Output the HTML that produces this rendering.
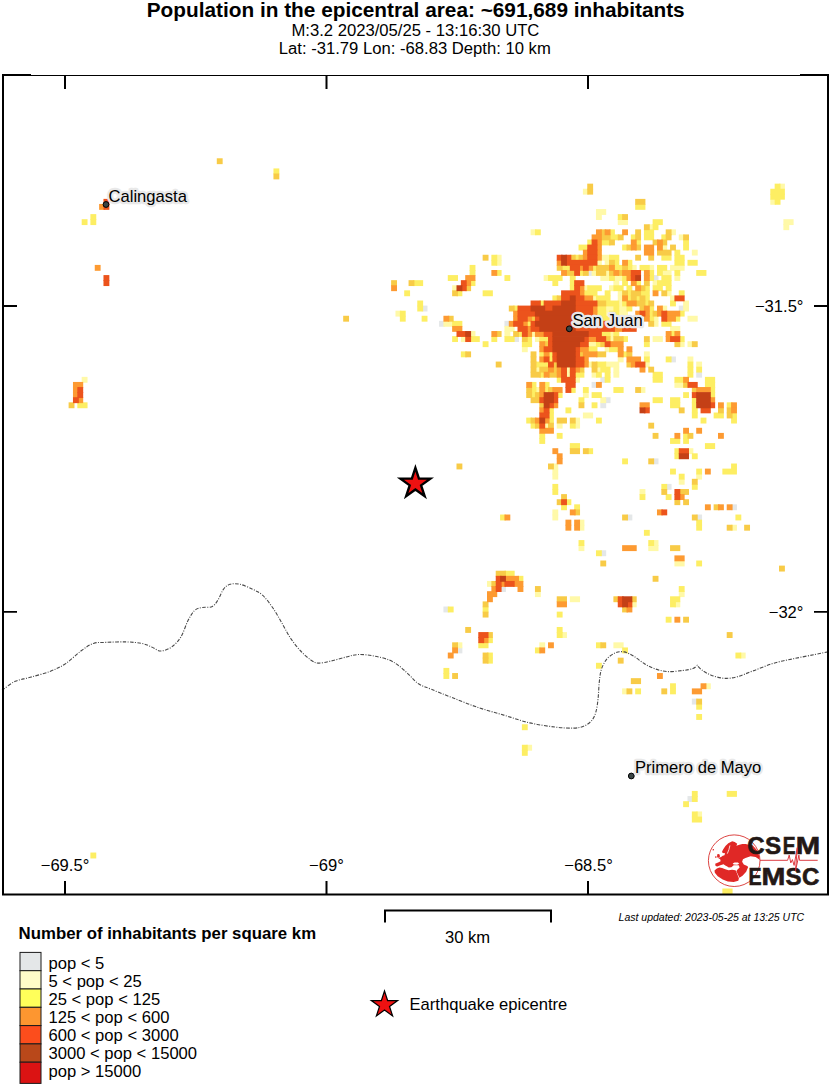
<!DOCTYPE html>
<html><head><meta charset="utf-8"><title>Population map</title>
<style>html,body{margin:0;padding:0;background:#fff;}body{width:831px;height:1086px;overflow:hidden;font-family:"Liberation Sans",sans-serif;}svg{display:block;}text{font-family:"Liberation Sans",sans-serif;}</style>
</head><body>
<svg width="831" height="1086" viewBox="0 0 831 1086">
<rect width="831" height="1086" fill="#fff"/>
<text x="415.7" y="16.8" text-anchor="middle" font-size="20.8" font-weight="bold" fill="#000">Population in the epicentral area: ~691,689 inhabitants</text>
<text x="415.4" y="35.6" text-anchor="middle" font-size="16.65" fill="#000">M:3.2 2023/05/25 - 13:16:30 UTC</text>
<text x="414.8" y="53.7" text-anchor="middle" font-size="16.65" fill="#000">Lat: -31.79 Lon: -68.83 Depth: 10 km</text>
<filter id="soft" x="-2%" y="-2%" width="104%" height="104%"><feGaussianBlur stdDeviation="0.75 0.5"/></filter><g id="cells" filter="url(#soft)">
<rect x="587.25" y="270.00" width="5.86" height="5.88" fill="#e4e7e8"/>
<rect x="652.62" y="275.09" width="5.86" height="5.88" fill="#e4e7e8"/>
<rect x="421.63" y="305.60" width="5.86" height="5.89" fill="#e4e7e8"/>
<rect x="678.77" y="305.60" width="5.86" height="5.89" fill="#e4e7e8"/>
<rect x="439.07" y="320.86" width="5.86" height="5.89" fill="#e4e7e8"/>
<rect x="504.44" y="320.86" width="5.86" height="5.89" fill="#e4e7e8"/>
<rect x="513.16" y="336.13" width="5.86" height="5.89" fill="#e4e7e8"/>
<rect x="670.06" y="356.49" width="5.86" height="5.89" fill="#e4e7e8"/>
<rect x="696.21" y="371.77" width="5.86" height="5.89" fill="#e4e7e8"/>
<rect x="600.33" y="376.86" width="5.86" height="5.89" fill="#e4e7e8"/>
<rect x="591.61" y="381.95" width="5.86" height="5.89" fill="#e4e7e8"/>
<rect x="604.68" y="397.23" width="5.86" height="5.90" fill="#e4e7e8"/>
<rect x="600.33" y="402.33" width="5.86" height="5.90" fill="#e4e7e8"/>
<rect x="652.62" y="458.41" width="5.86" height="5.90" fill="#e4e7e8"/>
<rect x="665.70" y="483.91" width="5.86" height="5.90" fill="#e4e7e8"/>
<rect x="731.08" y="504.33" width="5.86" height="5.90" fill="#e4e7e8"/>
<rect x="626.48" y="514.54" width="5.86" height="5.91" fill="#e4e7e8"/>
<rect x="696.21" y="514.54" width="5.86" height="5.91" fill="#e4e7e8"/>
<rect x="600.33" y="550.29" width="5.86" height="5.91" fill="#e4e7e8"/>
<rect x="500.08" y="586.06" width="5.86" height="5.91" fill="#e4e7e8"/>
<rect x="443.42" y="606.52" width="5.86" height="5.91" fill="#e4e7e8"/>
<rect x="456.50" y="647.44" width="5.86" height="5.92" fill="#e4e7e8"/>
<rect x="691.85" y="698.64" width="5.86" height="5.92" fill="#e4e7e8"/>
<rect x="687.49" y="796.06" width="5.86" height="5.93" fill="#e4e7e8"/>
<rect x="779.02" y="183.65" width="5.86" height="5.88" fill="#fff9a8"/>
<rect x="582.89" y="188.73" width="5.86" height="5.88" fill="#fff9a8"/>
<rect x="770.30" y="198.88" width="5.86" height="5.88" fill="#fff9a8"/>
<rect x="595.97" y="209.04" width="10.22" height="5.88" fill="#fff9a8"/>
<rect x="595.97" y="214.11" width="5.86" height="5.88" fill="#fff9a8"/>
<rect x="617.76" y="219.19" width="10.22" height="5.88" fill="#fff9a8"/>
<rect x="783.38" y="219.19" width="10.22" height="5.88" fill="#fff9a8"/>
<rect x="648.27" y="224.27" width="5.86" height="5.88" fill="#fff9a8"/>
<rect x="783.38" y="224.27" width="5.86" height="5.88" fill="#fff9a8"/>
<rect x="530.59" y="229.35" width="5.86" height="5.88" fill="#fff9a8"/>
<rect x="670.06" y="229.35" width="5.86" height="5.88" fill="#fff9a8"/>
<rect x="678.77" y="234.43" width="5.86" height="5.88" fill="#fff9a8"/>
<rect x="661.34" y="244.59" width="5.86" height="5.88" fill="#fff9a8"/>
<rect x="691.85" y="249.67" width="5.86" height="5.88" fill="#fff9a8"/>
<rect x="495.73" y="254.76" width="5.86" height="5.88" fill="#fff9a8"/>
<rect x="600.33" y="254.76" width="10.22" height="5.88" fill="#fff9a8"/>
<rect x="495.73" y="259.84" width="5.86" height="5.88" fill="#fff9a8"/>
<rect x="595.97" y="259.84" width="5.86" height="5.88" fill="#fff9a8"/>
<rect x="604.68" y="259.84" width="5.86" height="5.88" fill="#fff9a8"/>
<rect x="630.83" y="264.92" width="5.86" height="5.88" fill="#fff9a8"/>
<rect x="648.27" y="264.92" width="5.86" height="5.88" fill="#fff9a8"/>
<rect x="670.06" y="264.92" width="14.58" height="5.88" fill="#fff9a8"/>
<rect x="591.61" y="270.00" width="5.86" height="5.88" fill="#fff9a8"/>
<rect x="604.68" y="270.00" width="5.86" height="5.88" fill="#fff9a8"/>
<rect x="661.34" y="270.00" width="10.22" height="5.88" fill="#fff9a8"/>
<rect x="543.67" y="275.09" width="5.86" height="5.88" fill="#fff9a8"/>
<rect x="600.33" y="275.09" width="10.22" height="5.88" fill="#fff9a8"/>
<rect x="613.40" y="275.09" width="10.22" height="5.88" fill="#fff9a8"/>
<rect x="674.42" y="275.09" width="5.86" height="5.88" fill="#fff9a8"/>
<rect x="613.40" y="280.17" width="5.86" height="5.88" fill="#fff9a8"/>
<rect x="652.62" y="280.17" width="5.86" height="5.88" fill="#fff9a8"/>
<rect x="452.14" y="285.26" width="5.86" height="5.89" fill="#fff9a8"/>
<rect x="582.89" y="285.26" width="5.86" height="5.89" fill="#fff9a8"/>
<rect x="609.04" y="285.26" width="5.86" height="5.89" fill="#fff9a8"/>
<rect x="617.76" y="290.34" width="5.86" height="5.89" fill="#fff9a8"/>
<rect x="665.70" y="290.34" width="5.86" height="5.89" fill="#fff9a8"/>
<rect x="591.61" y="295.43" width="5.86" height="5.89" fill="#fff9a8"/>
<rect x="617.76" y="295.43" width="5.86" height="5.89" fill="#fff9a8"/>
<rect x="670.06" y="295.43" width="5.86" height="5.89" fill="#fff9a8"/>
<rect x="617.76" y="300.51" width="5.86" height="5.89" fill="#fff9a8"/>
<rect x="683.13" y="300.51" width="5.86" height="5.89" fill="#fff9a8"/>
<rect x="604.68" y="305.60" width="10.22" height="5.89" fill="#fff9a8"/>
<rect x="617.76" y="305.60" width="10.22" height="5.89" fill="#fff9a8"/>
<rect x="661.34" y="305.60" width="5.86" height="5.89" fill="#fff9a8"/>
<rect x="683.13" y="305.60" width="5.86" height="5.89" fill="#fff9a8"/>
<rect x="395.48" y="310.69" width="5.86" height="5.89" fill="#fff9a8"/>
<rect x="604.68" y="310.69" width="5.86" height="5.89" fill="#fff9a8"/>
<rect x="617.76" y="310.69" width="10.22" height="5.89" fill="#fff9a8"/>
<rect x="609.04" y="315.77" width="5.86" height="5.89" fill="#fff9a8"/>
<rect x="622.12" y="315.77" width="5.86" height="5.89" fill="#fff9a8"/>
<rect x="652.62" y="315.77" width="5.86" height="5.89" fill="#fff9a8"/>
<rect x="687.49" y="315.77" width="10.22" height="5.89" fill="#fff9a8"/>
<rect x="443.42" y="320.86" width="10.22" height="5.89" fill="#fff9a8"/>
<rect x="617.76" y="320.86" width="10.22" height="5.89" fill="#fff9a8"/>
<rect x="652.62" y="320.86" width="5.86" height="5.89" fill="#fff9a8"/>
<rect x="504.44" y="325.95" width="10.22" height="5.89" fill="#fff9a8"/>
<rect x="670.06" y="325.95" width="10.22" height="5.89" fill="#fff9a8"/>
<rect x="469.58" y="331.04" width="5.86" height="5.89" fill="#fff9a8"/>
<rect x="504.44" y="331.04" width="5.86" height="5.89" fill="#fff9a8"/>
<rect x="530.59" y="331.04" width="5.86" height="5.89" fill="#fff9a8"/>
<rect x="609.04" y="331.04" width="5.86" height="5.89" fill="#fff9a8"/>
<rect x="460.86" y="336.13" width="5.86" height="5.89" fill="#fff9a8"/>
<rect x="534.95" y="336.13" width="5.86" height="5.89" fill="#fff9a8"/>
<rect x="609.04" y="336.13" width="5.86" height="5.89" fill="#fff9a8"/>
<rect x="652.62" y="336.13" width="10.22" height="5.89" fill="#fff9a8"/>
<rect x="587.25" y="341.22" width="10.22" height="5.89" fill="#fff9a8"/>
<rect x="678.77" y="341.22" width="5.86" height="5.89" fill="#fff9a8"/>
<rect x="687.49" y="341.22" width="5.86" height="5.89" fill="#fff9a8"/>
<rect x="521.88" y="346.31" width="5.86" height="5.89" fill="#fff9a8"/>
<rect x="604.68" y="346.31" width="5.86" height="5.89" fill="#fff9a8"/>
<rect x="643.91" y="351.40" width="5.86" height="5.89" fill="#fff9a8"/>
<rect x="617.76" y="356.49" width="5.86" height="5.89" fill="#fff9a8"/>
<rect x="687.49" y="356.49" width="5.86" height="5.89" fill="#fff9a8"/>
<rect x="587.25" y="361.58" width="5.86" height="5.89" fill="#fff9a8"/>
<rect x="604.68" y="361.58" width="14.58" height="5.89" fill="#fff9a8"/>
<rect x="643.91" y="361.58" width="5.86" height="5.89" fill="#fff9a8"/>
<rect x="696.21" y="361.58" width="5.86" height="5.89" fill="#fff9a8"/>
<rect x="534.95" y="366.67" width="5.86" height="5.89" fill="#fff9a8"/>
<rect x="565.46" y="366.67" width="5.86" height="5.89" fill="#fff9a8"/>
<rect x="595.97" y="366.67" width="5.86" height="5.89" fill="#fff9a8"/>
<rect x="613.40" y="366.67" width="5.86" height="5.89" fill="#fff9a8"/>
<rect x="565.46" y="371.77" width="5.86" height="5.89" fill="#fff9a8"/>
<rect x="591.61" y="371.77" width="5.86" height="5.89" fill="#fff9a8"/>
<rect x="613.40" y="371.77" width="5.86" height="5.89" fill="#fff9a8"/>
<rect x="81.68" y="376.86" width="5.86" height="5.89" fill="#fff9a8"/>
<rect x="574.17" y="376.86" width="5.86" height="5.89" fill="#fff9a8"/>
<rect x="674.42" y="381.95" width="10.22" height="5.89" fill="#fff9a8"/>
<rect x="534.95" y="387.05" width="5.86" height="5.89" fill="#fff9a8"/>
<rect x="639.55" y="387.05" width="5.86" height="5.89" fill="#fff9a8"/>
<rect x="582.89" y="392.14" width="5.86" height="5.89" fill="#fff9a8"/>
<rect x="600.33" y="397.23" width="5.86" height="5.90" fill="#fff9a8"/>
<rect x="582.89" y="412.52" width="10.22" height="5.90" fill="#fff9a8"/>
<rect x="574.17" y="417.62" width="5.86" height="5.90" fill="#fff9a8"/>
<rect x="543.67" y="422.71" width="5.86" height="5.90" fill="#fff9a8"/>
<rect x="556.74" y="422.71" width="5.86" height="5.90" fill="#fff9a8"/>
<rect x="574.17" y="422.71" width="5.86" height="5.90" fill="#fff9a8"/>
<rect x="687.49" y="448.21" width="5.86" height="5.90" fill="#fff9a8"/>
<rect x="552.38" y="463.51" width="5.86" height="5.90" fill="#fff9a8"/>
<rect x="552.38" y="468.61" width="5.86" height="5.90" fill="#fff9a8"/>
<rect x="552.38" y="473.71" width="5.86" height="5.90" fill="#fff9a8"/>
<rect x="696.21" y="473.71" width="5.86" height="5.90" fill="#fff9a8"/>
<rect x="678.77" y="478.81" width="5.86" height="5.90" fill="#fff9a8"/>
<rect x="639.55" y="489.02" width="5.86" height="5.90" fill="#fff9a8"/>
<rect x="552.38" y="509.43" width="5.86" height="5.91" fill="#fff9a8"/>
<rect x="552.38" y="514.54" width="5.86" height="5.91" fill="#fff9a8"/>
<rect x="578.53" y="519.65" width="5.86" height="5.91" fill="#fff9a8"/>
<rect x="578.53" y="524.75" width="5.86" height="5.91" fill="#fff9a8"/>
<rect x="731.08" y="524.75" width="5.86" height="5.91" fill="#fff9a8"/>
<rect x="652.62" y="540.07" width="5.86" height="5.91" fill="#fff9a8"/>
<rect x="578.53" y="545.18" width="5.86" height="5.91" fill="#fff9a8"/>
<rect x="648.27" y="545.18" width="10.22" height="5.91" fill="#fff9a8"/>
<rect x="674.42" y="560.51" width="10.22" height="5.91" fill="#fff9a8"/>
<rect x="487.01" y="580.95" width="5.86" height="5.91" fill="#fff9a8"/>
<rect x="534.95" y="591.18" width="5.86" height="5.91" fill="#fff9a8"/>
<rect x="678.77" y="591.18" width="5.86" height="5.91" fill="#fff9a8"/>
<rect x="569.82" y="596.29" width="10.22" height="5.91" fill="#fff9a8"/>
<rect x="630.83" y="601.40" width="5.86" height="5.91" fill="#fff9a8"/>
<rect x="674.42" y="601.40" width="5.86" height="5.91" fill="#fff9a8"/>
<rect x="561.10" y="632.09" width="5.86" height="5.92" fill="#fff9a8"/>
<rect x="456.50" y="642.33" width="5.86" height="5.92" fill="#fff9a8"/>
<rect x="539.31" y="642.33" width="5.86" height="5.92" fill="#fff9a8"/>
<rect x="613.40" y="642.33" width="10.22" height="5.92" fill="#fff9a8"/>
<rect x="739.79" y="652.56" width="5.86" height="5.92" fill="#fff9a8"/>
<rect x="704.92" y="683.28" width="5.86" height="5.92" fill="#fff9a8"/>
<rect x="622.12" y="688.40" width="5.86" height="5.92" fill="#fff9a8"/>
<rect x="526.23" y="744.77" width="5.86" height="5.93" fill="#fff9a8"/>
<rect x="696.21" y="811.45" width="5.86" height="5.93" fill="#fff9a8"/>
<rect x="273.45" y="168.43" width="5.86" height="5.87" fill="#fdee64"/>
<rect x="774.66" y="183.65" width="5.86" height="5.88" fill="#fdee64"/>
<rect x="770.30" y="188.73" width="14.58" height="5.88" fill="#fdee64"/>
<rect x="770.30" y="193.80" width="14.58" height="5.88" fill="#fdee64"/>
<rect x="774.66" y="198.88" width="5.86" height="5.88" fill="#fdee64"/>
<rect x="635.19" y="203.96" width="10.22" height="5.88" fill="#fdee64"/>
<rect x="90.40" y="214.11" width="5.86" height="5.88" fill="#fdee64"/>
<rect x="617.76" y="214.11" width="5.86" height="5.88" fill="#fdee64"/>
<rect x="81.68" y="219.19" width="5.86" height="5.88" fill="#fdee64"/>
<rect x="90.40" y="219.19" width="5.86" height="5.88" fill="#fdee64"/>
<rect x="652.62" y="219.19" width="10.22" height="5.88" fill="#fdee64"/>
<rect x="652.62" y="224.27" width="5.86" height="5.88" fill="#fdee64"/>
<rect x="534.95" y="229.35" width="5.86" height="5.88" fill="#fdee64"/>
<rect x="609.04" y="229.35" width="5.86" height="5.88" fill="#fdee64"/>
<rect x="643.91" y="229.35" width="10.22" height="5.88" fill="#fdee64"/>
<rect x="609.04" y="234.43" width="10.22" height="5.88" fill="#fdee64"/>
<rect x="630.83" y="234.43" width="5.86" height="5.88" fill="#fdee64"/>
<rect x="643.91" y="234.43" width="10.22" height="5.88" fill="#fdee64"/>
<rect x="661.34" y="234.43" width="5.86" height="5.88" fill="#fdee64"/>
<rect x="587.25" y="239.51" width="5.86" height="5.88" fill="#fdee64"/>
<rect x="600.33" y="239.51" width="10.22" height="5.88" fill="#fdee64"/>
<rect x="635.19" y="239.51" width="5.86" height="5.88" fill="#fdee64"/>
<rect x="683.13" y="239.51" width="5.86" height="5.88" fill="#fdee64"/>
<rect x="578.53" y="244.59" width="10.22" height="5.88" fill="#fdee64"/>
<rect x="622.12" y="244.59" width="5.86" height="5.88" fill="#fdee64"/>
<rect x="683.13" y="244.59" width="5.86" height="5.88" fill="#fdee64"/>
<rect x="674.42" y="249.67" width="5.86" height="5.88" fill="#fdee64"/>
<rect x="491.37" y="254.76" width="5.86" height="5.88" fill="#fdee64"/>
<rect x="574.17" y="254.76" width="5.86" height="5.88" fill="#fdee64"/>
<rect x="609.04" y="254.76" width="10.22" height="5.88" fill="#fdee64"/>
<rect x="661.34" y="254.76" width="10.22" height="5.88" fill="#fdee64"/>
<rect x="674.42" y="254.76" width="10.22" height="5.88" fill="#fdee64"/>
<rect x="491.37" y="259.84" width="5.86" height="5.88" fill="#fdee64"/>
<rect x="613.40" y="259.84" width="5.86" height="5.88" fill="#fdee64"/>
<rect x="626.48" y="259.84" width="5.86" height="5.88" fill="#fdee64"/>
<rect x="674.42" y="259.84" width="10.22" height="5.88" fill="#fdee64"/>
<rect x="687.49" y="259.84" width="10.22" height="5.88" fill="#fdee64"/>
<rect x="469.58" y="264.92" width="5.86" height="5.88" fill="#fdee64"/>
<rect x="561.10" y="264.92" width="10.22" height="5.88" fill="#fdee64"/>
<rect x="591.61" y="264.92" width="5.86" height="5.88" fill="#fdee64"/>
<rect x="613.40" y="264.92" width="10.22" height="5.88" fill="#fdee64"/>
<rect x="626.48" y="264.92" width="5.86" height="5.88" fill="#fdee64"/>
<rect x="639.55" y="264.92" width="10.22" height="5.88" fill="#fdee64"/>
<rect x="656.98" y="264.92" width="10.22" height="5.88" fill="#fdee64"/>
<rect x="469.58" y="270.00" width="5.86" height="5.88" fill="#fdee64"/>
<rect x="495.73" y="270.00" width="5.86" height="5.88" fill="#fdee64"/>
<rect x="578.53" y="270.00" width="5.86" height="5.88" fill="#fdee64"/>
<rect x="648.27" y="270.00" width="5.86" height="5.88" fill="#fdee64"/>
<rect x="656.98" y="270.00" width="5.86" height="5.88" fill="#fdee64"/>
<rect x="674.42" y="270.00" width="5.86" height="5.88" fill="#fdee64"/>
<rect x="696.21" y="270.00" width="10.22" height="5.88" fill="#fdee64"/>
<rect x="447.78" y="275.09" width="10.22" height="5.88" fill="#fdee64"/>
<rect x="504.44" y="275.09" width="5.86" height="5.88" fill="#fdee64"/>
<rect x="548.02" y="275.09" width="14.58" height="5.88" fill="#fdee64"/>
<rect x="569.82" y="275.09" width="5.86" height="5.88" fill="#fdee64"/>
<rect x="609.04" y="275.09" width="5.86" height="5.88" fill="#fdee64"/>
<rect x="622.12" y="275.09" width="5.86" height="5.88" fill="#fdee64"/>
<rect x="648.27" y="275.09" width="5.86" height="5.88" fill="#fdee64"/>
<rect x="661.34" y="275.09" width="10.22" height="5.88" fill="#fdee64"/>
<rect x="412.92" y="280.17" width="10.22" height="5.88" fill="#fdee64"/>
<rect x="469.58" y="280.17" width="5.86" height="5.88" fill="#fdee64"/>
<rect x="552.38" y="280.17" width="5.86" height="5.88" fill="#fdee64"/>
<rect x="569.82" y="280.17" width="5.86" height="5.88" fill="#fdee64"/>
<rect x="622.12" y="280.17" width="5.86" height="5.88" fill="#fdee64"/>
<rect x="635.19" y="280.17" width="5.86" height="5.88" fill="#fdee64"/>
<rect x="656.98" y="280.17" width="14.57" height="5.88" fill="#fdee64"/>
<rect x="569.82" y="285.26" width="5.86" height="5.89" fill="#fdee64"/>
<rect x="587.25" y="285.26" width="14.58" height="5.89" fill="#fdee64"/>
<rect x="613.40" y="285.26" width="10.22" height="5.89" fill="#fdee64"/>
<rect x="626.48" y="285.26" width="5.86" height="5.89" fill="#fdee64"/>
<rect x="643.91" y="285.26" width="5.86" height="5.89" fill="#fdee64"/>
<rect x="652.62" y="285.26" width="10.22" height="5.89" fill="#fdee64"/>
<rect x="665.70" y="285.26" width="5.86" height="5.89" fill="#fdee64"/>
<rect x="404.20" y="290.34" width="5.86" height="5.89" fill="#fdee64"/>
<rect x="456.50" y="290.34" width="5.86" height="5.89" fill="#fdee64"/>
<rect x="482.65" y="290.34" width="10.22" height="5.89" fill="#fdee64"/>
<rect x="582.89" y="290.34" width="14.58" height="5.89" fill="#fdee64"/>
<rect x="604.68" y="290.34" width="5.86" height="5.89" fill="#fdee64"/>
<rect x="626.48" y="290.34" width="5.86" height="5.89" fill="#fdee64"/>
<rect x="639.55" y="290.34" width="10.22" height="5.89" fill="#fdee64"/>
<rect x="678.77" y="290.34" width="5.86" height="5.89" fill="#fdee64"/>
<rect x="552.38" y="295.43" width="5.86" height="5.89" fill="#fdee64"/>
<rect x="595.97" y="295.43" width="14.58" height="5.89" fill="#fdee64"/>
<rect x="626.48" y="295.43" width="5.86" height="5.89" fill="#fdee64"/>
<rect x="635.19" y="295.43" width="5.86" height="5.89" fill="#fdee64"/>
<rect x="643.91" y="295.43" width="5.86" height="5.89" fill="#fdee64"/>
<rect x="417.27" y="300.51" width="5.86" height="5.89" fill="#fdee64"/>
<rect x="539.31" y="300.51" width="5.86" height="5.89" fill="#fdee64"/>
<rect x="604.68" y="300.51" width="14.58" height="5.89" fill="#fdee64"/>
<rect x="622.12" y="300.51" width="5.86" height="5.89" fill="#fdee64"/>
<rect x="643.91" y="300.51" width="5.86" height="5.89" fill="#fdee64"/>
<rect x="670.06" y="300.51" width="5.86" height="5.89" fill="#fdee64"/>
<rect x="417.27" y="305.60" width="5.86" height="5.89" fill="#fdee64"/>
<rect x="513.16" y="305.60" width="5.86" height="5.89" fill="#fdee64"/>
<rect x="595.97" y="305.60" width="10.22" height="5.89" fill="#fdee64"/>
<rect x="613.40" y="305.60" width="5.86" height="5.89" fill="#fdee64"/>
<rect x="626.48" y="305.60" width="5.86" height="5.89" fill="#fdee64"/>
<rect x="648.27" y="305.60" width="5.86" height="5.89" fill="#fdee64"/>
<rect x="399.84" y="310.69" width="5.86" height="5.89" fill="#fdee64"/>
<rect x="595.97" y="310.69" width="10.22" height="5.89" fill="#fdee64"/>
<rect x="609.04" y="310.69" width="10.22" height="5.89" fill="#fdee64"/>
<rect x="648.27" y="310.69" width="5.86" height="5.89" fill="#fdee64"/>
<rect x="678.77" y="310.69" width="5.86" height="5.89" fill="#fdee64"/>
<rect x="399.84" y="315.77" width="5.86" height="5.89" fill="#fdee64"/>
<rect x="421.63" y="315.77" width="5.86" height="5.89" fill="#fdee64"/>
<rect x="595.97" y="315.77" width="14.58" height="5.89" fill="#fdee64"/>
<rect x="613.40" y="315.77" width="10.22" height="5.89" fill="#fdee64"/>
<rect x="648.27" y="315.77" width="5.86" height="5.89" fill="#fdee64"/>
<rect x="674.42" y="315.77" width="5.86" height="5.89" fill="#fdee64"/>
<rect x="452.14" y="320.86" width="10.22" height="5.89" fill="#fdee64"/>
<rect x="526.23" y="320.86" width="5.86" height="5.89" fill="#fdee64"/>
<rect x="613.40" y="320.86" width="5.86" height="5.89" fill="#fdee64"/>
<rect x="661.34" y="320.86" width="10.22" height="5.89" fill="#fdee64"/>
<rect x="517.52" y="331.04" width="5.86" height="5.89" fill="#fdee64"/>
<rect x="600.33" y="331.04" width="10.22" height="5.89" fill="#fdee64"/>
<rect x="613.40" y="331.04" width="5.86" height="5.89" fill="#fdee64"/>
<rect x="670.06" y="331.04" width="5.86" height="5.89" fill="#fdee64"/>
<rect x="452.14" y="336.13" width="5.86" height="5.89" fill="#fdee64"/>
<rect x="469.58" y="336.13" width="10.22" height="5.89" fill="#fdee64"/>
<rect x="491.37" y="336.13" width="5.86" height="5.89" fill="#fdee64"/>
<rect x="504.44" y="336.13" width="10.22" height="5.89" fill="#fdee64"/>
<rect x="526.23" y="336.13" width="5.86" height="5.89" fill="#fdee64"/>
<rect x="539.31" y="336.13" width="10.22" height="5.89" fill="#fdee64"/>
<rect x="622.12" y="336.13" width="5.86" height="5.89" fill="#fdee64"/>
<rect x="678.77" y="336.13" width="5.86" height="5.89" fill="#fdee64"/>
<rect x="482.65" y="341.22" width="5.86" height="5.89" fill="#fdee64"/>
<rect x="521.88" y="341.22" width="10.22" height="5.89" fill="#fdee64"/>
<rect x="595.97" y="341.22" width="5.86" height="5.89" fill="#fdee64"/>
<rect x="643.91" y="341.22" width="5.86" height="5.89" fill="#fdee64"/>
<rect x="587.25" y="346.31" width="10.22" height="5.89" fill="#fdee64"/>
<rect x="609.04" y="346.31" width="10.22" height="5.89" fill="#fdee64"/>
<rect x="460.86" y="351.40" width="5.86" height="5.89" fill="#fdee64"/>
<rect x="539.31" y="351.40" width="5.86" height="5.89" fill="#fdee64"/>
<rect x="548.02" y="351.40" width="5.86" height="5.89" fill="#fdee64"/>
<rect x="622.12" y="351.40" width="5.86" height="5.89" fill="#fdee64"/>
<rect x="548.02" y="356.49" width="5.86" height="5.89" fill="#fdee64"/>
<rect x="643.91" y="356.49" width="5.86" height="5.89" fill="#fdee64"/>
<rect x="665.70" y="356.49" width="5.86" height="5.89" fill="#fdee64"/>
<rect x="534.95" y="361.58" width="14.57" height="5.89" fill="#fdee64"/>
<rect x="595.97" y="361.58" width="10.22" height="5.89" fill="#fdee64"/>
<rect x="687.49" y="361.58" width="5.86" height="5.89" fill="#fdee64"/>
<rect x="600.33" y="366.67" width="10.22" height="5.89" fill="#fdee64"/>
<rect x="687.49" y="366.67" width="5.86" height="5.89" fill="#fdee64"/>
<rect x="696.21" y="366.67" width="5.86" height="5.89" fill="#fdee64"/>
<rect x="539.31" y="371.77" width="5.86" height="5.89" fill="#fdee64"/>
<rect x="574.17" y="371.77" width="10.22" height="5.89" fill="#fdee64"/>
<rect x="595.97" y="371.77" width="5.86" height="5.89" fill="#fdee64"/>
<rect x="604.68" y="371.77" width="5.86" height="5.89" fill="#fdee64"/>
<rect x="652.62" y="371.77" width="10.22" height="5.89" fill="#fdee64"/>
<rect x="687.49" y="371.77" width="5.86" height="5.89" fill="#fdee64"/>
<rect x="556.74" y="376.86" width="5.86" height="5.89" fill="#fdee64"/>
<rect x="604.68" y="376.86" width="5.86" height="5.89" fill="#fdee64"/>
<rect x="652.62" y="376.86" width="10.22" height="5.89" fill="#fdee64"/>
<rect x="674.42" y="376.86" width="10.22" height="5.89" fill="#fdee64"/>
<rect x="704.92" y="376.86" width="10.22" height="5.89" fill="#fdee64"/>
<rect x="530.59" y="381.95" width="5.86" height="5.89" fill="#fdee64"/>
<rect x="543.67" y="381.95" width="5.86" height="5.89" fill="#fdee64"/>
<rect x="704.92" y="381.95" width="10.22" height="5.89" fill="#fdee64"/>
<rect x="530.59" y="387.05" width="5.86" height="5.89" fill="#fdee64"/>
<rect x="543.67" y="387.05" width="5.86" height="5.89" fill="#fdee64"/>
<rect x="569.82" y="387.05" width="5.86" height="5.89" fill="#fdee64"/>
<rect x="582.89" y="387.05" width="5.86" height="5.89" fill="#fdee64"/>
<rect x="613.40" y="387.05" width="10.22" height="5.89" fill="#fdee64"/>
<rect x="709.28" y="387.05" width="5.86" height="5.89" fill="#fdee64"/>
<rect x="530.59" y="392.14" width="5.86" height="5.89" fill="#fdee64"/>
<rect x="556.74" y="392.14" width="5.86" height="5.89" fill="#fdee64"/>
<rect x="591.61" y="392.14" width="10.22" height="5.89" fill="#fdee64"/>
<rect x="683.13" y="392.14" width="5.86" height="5.89" fill="#fdee64"/>
<rect x="709.28" y="392.14" width="5.86" height="5.89" fill="#fdee64"/>
<rect x="578.53" y="397.23" width="5.86" height="5.90" fill="#fdee64"/>
<rect x="652.62" y="397.23" width="10.22" height="5.90" fill="#fdee64"/>
<rect x="670.06" y="397.23" width="10.22" height="5.90" fill="#fdee64"/>
<rect x="691.85" y="397.23" width="5.86" height="5.90" fill="#fdee64"/>
<rect x="77.33" y="402.33" width="10.22" height="5.90" fill="#fdee64"/>
<rect x="591.61" y="402.33" width="5.86" height="5.90" fill="#fdee64"/>
<rect x="670.06" y="402.33" width="10.22" height="5.90" fill="#fdee64"/>
<rect x="691.85" y="402.33" width="5.86" height="5.90" fill="#fdee64"/>
<rect x="726.72" y="402.33" width="5.86" height="5.90" fill="#fdee64"/>
<rect x="548.02" y="407.42" width="5.86" height="5.90" fill="#fdee64"/>
<rect x="565.46" y="407.42" width="5.86" height="5.90" fill="#fdee64"/>
<rect x="691.85" y="407.42" width="5.86" height="5.90" fill="#fdee64"/>
<rect x="548.02" y="412.52" width="5.86" height="5.90" fill="#fdee64"/>
<rect x="691.85" y="412.52" width="5.86" height="5.90" fill="#fdee64"/>
<rect x="713.64" y="412.52" width="10.22" height="5.90" fill="#fdee64"/>
<rect x="731.08" y="412.52" width="5.86" height="5.90" fill="#fdee64"/>
<rect x="526.23" y="417.62" width="5.86" height="5.90" fill="#fdee64"/>
<rect x="548.02" y="417.62" width="5.86" height="5.90" fill="#fdee64"/>
<rect x="595.97" y="417.62" width="5.86" height="5.90" fill="#fdee64"/>
<rect x="700.57" y="417.62" width="5.86" height="5.90" fill="#fdee64"/>
<rect x="731.08" y="417.62" width="5.86" height="5.90" fill="#fdee64"/>
<rect x="530.59" y="422.71" width="5.86" height="5.90" fill="#fdee64"/>
<rect x="569.82" y="422.71" width="5.86" height="5.90" fill="#fdee64"/>
<rect x="539.31" y="432.91" width="5.86" height="5.90" fill="#fdee64"/>
<rect x="556.74" y="432.91" width="5.86" height="5.90" fill="#fdee64"/>
<rect x="683.13" y="432.91" width="5.86" height="5.90" fill="#fdee64"/>
<rect x="539.31" y="438.01" width="5.86" height="5.90" fill="#fdee64"/>
<rect x="670.06" y="438.01" width="10.22" height="5.90" fill="#fdee64"/>
<rect x="683.13" y="438.01" width="5.86" height="5.90" fill="#fdee64"/>
<rect x="569.82" y="443.11" width="10.22" height="5.90" fill="#fdee64"/>
<rect x="704.92" y="443.11" width="10.22" height="5.90" fill="#fdee64"/>
<rect x="587.25" y="448.21" width="5.86" height="5.90" fill="#fdee64"/>
<rect x="674.42" y="448.21" width="5.86" height="5.90" fill="#fdee64"/>
<rect x="674.42" y="453.31" width="5.86" height="5.90" fill="#fdee64"/>
<rect x="691.85" y="453.31" width="5.86" height="5.90" fill="#fdee64"/>
<rect x="622.12" y="458.41" width="5.86" height="5.90" fill="#fdee64"/>
<rect x="731.08" y="463.51" width="5.86" height="5.90" fill="#fdee64"/>
<rect x="670.06" y="468.61" width="5.86" height="5.90" fill="#fdee64"/>
<rect x="696.21" y="468.61" width="5.86" height="5.90" fill="#fdee64"/>
<rect x="722.36" y="468.61" width="14.57" height="5.90" fill="#fdee64"/>
<rect x="678.77" y="473.71" width="5.86" height="5.90" fill="#fdee64"/>
<rect x="552.38" y="483.91" width="5.86" height="5.90" fill="#fdee64"/>
<rect x="661.34" y="483.91" width="5.86" height="5.90" fill="#fdee64"/>
<rect x="691.85" y="483.91" width="5.86" height="5.90" fill="#fdee64"/>
<rect x="552.38" y="489.02" width="5.86" height="5.90" fill="#fdee64"/>
<rect x="639.55" y="494.12" width="5.86" height="5.90" fill="#fdee64"/>
<rect x="665.70" y="494.12" width="5.86" height="5.90" fill="#fdee64"/>
<rect x="565.46" y="499.23" width="5.86" height="5.90" fill="#fdee64"/>
<rect x="561.10" y="504.33" width="5.86" height="5.90" fill="#fdee64"/>
<rect x="574.17" y="504.33" width="5.86" height="5.90" fill="#fdee64"/>
<rect x="500.08" y="514.54" width="5.86" height="5.91" fill="#fdee64"/>
<rect x="735.43" y="514.54" width="5.86" height="5.91" fill="#fdee64"/>
<rect x="696.21" y="519.65" width="5.86" height="5.91" fill="#fdee64"/>
<rect x="696.21" y="524.75" width="5.86" height="5.91" fill="#fdee64"/>
<rect x="643.91" y="529.86" width="5.86" height="5.91" fill="#fdee64"/>
<rect x="578.53" y="540.07" width="5.86" height="5.91" fill="#fdee64"/>
<rect x="648.27" y="540.07" width="5.86" height="5.91" fill="#fdee64"/>
<rect x="595.97" y="550.29" width="5.86" height="5.91" fill="#fdee64"/>
<rect x="696.21" y="560.51" width="5.86" height="5.91" fill="#fdee64"/>
<rect x="504.44" y="570.73" width="10.22" height="5.91" fill="#fdee64"/>
<rect x="517.52" y="575.84" width="5.86" height="5.91" fill="#fdee64"/>
<rect x="678.77" y="586.06" width="5.86" height="5.91" fill="#fdee64"/>
<rect x="670.06" y="596.29" width="10.22" height="5.91" fill="#fdee64"/>
<rect x="670.06" y="601.40" width="5.86" height="5.91" fill="#fdee64"/>
<rect x="447.78" y="606.52" width="5.86" height="5.91" fill="#fdee64"/>
<rect x="482.65" y="606.52" width="5.86" height="5.91" fill="#fdee64"/>
<rect x="556.74" y="611.63" width="5.86" height="5.91" fill="#fdee64"/>
<rect x="665.70" y="616.74" width="5.86" height="5.92" fill="#fdee64"/>
<rect x="556.74" y="626.98" width="5.86" height="5.92" fill="#fdee64"/>
<rect x="556.74" y="632.09" width="5.86" height="5.92" fill="#fdee64"/>
<rect x="487.01" y="637.21" width="5.86" height="5.92" fill="#fdee64"/>
<rect x="478.29" y="642.33" width="10.22" height="5.92" fill="#fdee64"/>
<rect x="595.97" y="642.33" width="5.86" height="5.92" fill="#fdee64"/>
<rect x="534.95" y="647.44" width="5.86" height="5.92" fill="#fdee64"/>
<rect x="622.12" y="647.44" width="5.86" height="5.92" fill="#fdee64"/>
<rect x="487.01" y="652.56" width="5.86" height="5.92" fill="#fdee64"/>
<rect x="735.43" y="652.56" width="5.86" height="5.92" fill="#fdee64"/>
<rect x="487.01" y="657.68" width="5.86" height="5.92" fill="#fdee64"/>
<rect x="595.97" y="662.80" width="5.86" height="5.92" fill="#fdee64"/>
<rect x="443.42" y="667.92" width="5.86" height="5.92" fill="#fdee64"/>
<rect x="443.42" y="673.04" width="5.86" height="5.92" fill="#fdee64"/>
<rect x="670.06" y="683.28" width="5.86" height="5.92" fill="#fdee64"/>
<rect x="635.19" y="688.40" width="5.86" height="5.92" fill="#fdee64"/>
<rect x="670.06" y="688.40" width="5.86" height="5.92" fill="#fdee64"/>
<rect x="696.21" y="703.77" width="5.86" height="5.92" fill="#fdee64"/>
<rect x="696.21" y="714.01" width="5.86" height="5.92" fill="#fdee64"/>
<rect x="521.88" y="724.26" width="5.86" height="5.93" fill="#fdee64"/>
<rect x="521.88" y="744.77" width="5.86" height="5.93" fill="#fdee64"/>
<rect x="521.88" y="749.89" width="5.86" height="5.93" fill="#fdee64"/>
<rect x="691.85" y="790.93" width="5.86" height="5.93" fill="#fdee64"/>
<rect x="726.72" y="790.93" width="10.22" height="5.93" fill="#fdee64"/>
<rect x="691.85" y="796.06" width="5.86" height="5.93" fill="#fdee64"/>
<rect x="683.13" y="801.19" width="5.86" height="5.93" fill="#fdee64"/>
<rect x="691.85" y="811.45" width="5.86" height="5.93" fill="#fdee64"/>
<rect x="691.85" y="816.59" width="10.22" height="5.93" fill="#fdee64"/>
<rect x="90.40" y="852.53" width="5.86" height="5.94" fill="#fdee64"/>
<rect x="722.36" y="888.50" width="10.22" height="5.94" fill="#fdee64"/>
<rect x="216.79" y="158.28" width="5.86" height="5.87" fill="#f8cb46"/>
<rect x="273.45" y="173.50" width="5.86" height="5.88" fill="#f8cb46"/>
<rect x="587.25" y="183.65" width="5.86" height="5.88" fill="#f8cb46"/>
<rect x="587.25" y="188.73" width="5.86" height="5.88" fill="#f8cb46"/>
<rect x="635.19" y="198.88" width="10.22" height="5.88" fill="#f8cb46"/>
<rect x="622.12" y="214.11" width="5.86" height="5.88" fill="#f8cb46"/>
<rect x="643.91" y="224.27" width="5.86" height="5.88" fill="#f8cb46"/>
<rect x="600.33" y="229.35" width="5.86" height="5.88" fill="#f8cb46"/>
<rect x="635.19" y="229.35" width="5.86" height="5.88" fill="#f8cb46"/>
<rect x="665.70" y="229.35" width="5.86" height="5.88" fill="#f8cb46"/>
<rect x="600.33" y="234.43" width="10.22" height="5.88" fill="#f8cb46"/>
<rect x="617.76" y="234.43" width="5.86" height="5.88" fill="#f8cb46"/>
<rect x="635.19" y="234.43" width="5.86" height="5.88" fill="#f8cb46"/>
<rect x="665.70" y="234.43" width="5.86" height="5.88" fill="#f8cb46"/>
<rect x="683.13" y="234.43" width="5.86" height="5.88" fill="#f8cb46"/>
<rect x="609.04" y="239.51" width="5.86" height="5.88" fill="#f8cb46"/>
<rect x="652.62" y="239.51" width="5.86" height="5.88" fill="#f8cb46"/>
<rect x="661.34" y="239.51" width="5.86" height="5.88" fill="#f8cb46"/>
<rect x="626.48" y="244.59" width="5.86" height="5.88" fill="#f8cb46"/>
<rect x="635.19" y="244.59" width="5.86" height="5.88" fill="#f8cb46"/>
<rect x="670.06" y="244.59" width="5.86" height="5.88" fill="#f8cb46"/>
<rect x="656.98" y="249.67" width="14.57" height="5.88" fill="#f8cb46"/>
<rect x="482.65" y="254.76" width="5.86" height="5.88" fill="#f8cb46"/>
<rect x="569.82" y="254.76" width="5.86" height="5.88" fill="#f8cb46"/>
<rect x="578.53" y="254.76" width="5.86" height="5.88" fill="#f8cb46"/>
<rect x="635.19" y="254.76" width="5.86" height="5.88" fill="#f8cb46"/>
<rect x="648.27" y="254.76" width="5.86" height="5.88" fill="#f8cb46"/>
<rect x="609.04" y="259.84" width="5.86" height="5.88" fill="#f8cb46"/>
<rect x="556.74" y="264.92" width="5.86" height="5.88" fill="#f8cb46"/>
<rect x="595.97" y="264.92" width="14.58" height="5.88" fill="#f8cb46"/>
<rect x="622.12" y="264.92" width="5.86" height="5.88" fill="#f8cb46"/>
<rect x="565.46" y="270.00" width="10.22" height="5.88" fill="#f8cb46"/>
<rect x="582.89" y="270.00" width="5.86" height="5.88" fill="#f8cb46"/>
<rect x="595.97" y="270.00" width="10.22" height="5.88" fill="#f8cb46"/>
<rect x="609.04" y="270.00" width="5.86" height="5.88" fill="#f8cb46"/>
<rect x="617.76" y="270.00" width="5.86" height="5.88" fill="#f8cb46"/>
<rect x="391.12" y="280.17" width="5.86" height="5.88" fill="#f8cb46"/>
<rect x="408.56" y="280.17" width="5.86" height="5.88" fill="#f8cb46"/>
<rect x="643.91" y="280.17" width="5.86" height="5.88" fill="#f8cb46"/>
<rect x="465.22" y="285.26" width="5.86" height="5.89" fill="#f8cb46"/>
<rect x="639.55" y="285.26" width="5.86" height="5.89" fill="#f8cb46"/>
<rect x="452.14" y="290.34" width="5.86" height="5.89" fill="#f8cb46"/>
<rect x="622.12" y="290.34" width="5.86" height="5.89" fill="#f8cb46"/>
<rect x="630.83" y="290.34" width="10.22" height="5.89" fill="#f8cb46"/>
<rect x="661.34" y="290.34" width="5.86" height="5.89" fill="#f8cb46"/>
<rect x="556.74" y="295.43" width="5.86" height="5.89" fill="#f8cb46"/>
<rect x="630.83" y="295.43" width="5.86" height="5.89" fill="#f8cb46"/>
<rect x="639.55" y="295.43" width="5.86" height="5.89" fill="#f8cb46"/>
<rect x="595.97" y="300.51" width="10.22" height="5.89" fill="#f8cb46"/>
<rect x="635.19" y="300.51" width="10.22" height="5.89" fill="#f8cb46"/>
<rect x="648.27" y="300.51" width="5.86" height="5.89" fill="#f8cb46"/>
<rect x="508.80" y="305.60" width="5.86" height="5.89" fill="#f8cb46"/>
<rect x="639.55" y="305.60" width="5.86" height="5.89" fill="#f8cb46"/>
<rect x="652.62" y="310.69" width="5.86" height="5.89" fill="#f8cb46"/>
<rect x="343.18" y="315.77" width="5.86" height="5.89" fill="#f8cb46"/>
<rect x="447.78" y="315.77" width="5.86" height="5.89" fill="#f8cb46"/>
<rect x="530.59" y="315.77" width="5.86" height="5.89" fill="#f8cb46"/>
<rect x="648.27" y="320.86" width="5.86" height="5.89" fill="#f8cb46"/>
<rect x="495.73" y="331.04" width="5.86" height="5.89" fill="#f8cb46"/>
<rect x="513.16" y="331.04" width="5.86" height="5.89" fill="#f8cb46"/>
<rect x="521.88" y="336.13" width="5.86" height="5.89" fill="#f8cb46"/>
<rect x="604.68" y="336.13" width="5.86" height="5.89" fill="#f8cb46"/>
<rect x="613.40" y="336.13" width="10.22" height="5.89" fill="#f8cb46"/>
<rect x="643.91" y="336.13" width="5.86" height="5.89" fill="#f8cb46"/>
<rect x="543.67" y="341.22" width="5.86" height="5.89" fill="#f8cb46"/>
<rect x="600.33" y="341.22" width="5.86" height="5.89" fill="#f8cb46"/>
<rect x="674.42" y="341.22" width="5.86" height="5.89" fill="#f8cb46"/>
<rect x="691.85" y="341.22" width="5.86" height="5.89" fill="#f8cb46"/>
<rect x="465.22" y="351.40" width="5.86" height="5.89" fill="#f8cb46"/>
<rect x="530.59" y="351.40" width="5.86" height="5.89" fill="#f8cb46"/>
<rect x="578.53" y="351.40" width="5.86" height="5.89" fill="#f8cb46"/>
<rect x="595.97" y="351.40" width="10.22" height="5.89" fill="#f8cb46"/>
<rect x="626.48" y="351.40" width="5.86" height="5.89" fill="#f8cb46"/>
<rect x="530.59" y="356.49" width="5.86" height="5.89" fill="#f8cb46"/>
<rect x="495.73" y="361.58" width="5.86" height="5.89" fill="#f8cb46"/>
<rect x="530.59" y="361.58" width="5.86" height="5.89" fill="#f8cb46"/>
<rect x="552.38" y="361.58" width="5.86" height="5.89" fill="#f8cb46"/>
<rect x="591.61" y="361.58" width="5.86" height="5.89" fill="#f8cb46"/>
<rect x="626.48" y="361.58" width="5.86" height="5.89" fill="#f8cb46"/>
<rect x="530.59" y="366.67" width="5.86" height="5.89" fill="#f8cb46"/>
<rect x="539.31" y="366.67" width="10.22" height="5.89" fill="#f8cb46"/>
<rect x="552.38" y="366.67" width="5.86" height="5.89" fill="#f8cb46"/>
<rect x="578.53" y="366.67" width="5.86" height="5.89" fill="#f8cb46"/>
<rect x="591.61" y="366.67" width="5.86" height="5.89" fill="#f8cb46"/>
<rect x="648.27" y="366.67" width="5.86" height="5.89" fill="#f8cb46"/>
<rect x="530.59" y="371.77" width="10.22" height="5.89" fill="#f8cb46"/>
<rect x="548.02" y="371.77" width="10.22" height="5.89" fill="#f8cb46"/>
<rect x="683.13" y="381.95" width="5.86" height="5.89" fill="#f8cb46"/>
<rect x="526.23" y="387.05" width="5.86" height="5.89" fill="#f8cb46"/>
<rect x="548.02" y="387.05" width="5.86" height="5.89" fill="#f8cb46"/>
<rect x="635.19" y="387.05" width="5.86" height="5.89" fill="#f8cb46"/>
<rect x="691.85" y="387.05" width="5.86" height="5.89" fill="#f8cb46"/>
<rect x="526.23" y="392.14" width="5.86" height="5.89" fill="#f8cb46"/>
<rect x="534.95" y="392.14" width="5.86" height="5.89" fill="#f8cb46"/>
<rect x="530.59" y="397.23" width="10.22" height="5.90" fill="#f8cb46"/>
<rect x="68.61" y="402.33" width="5.86" height="5.90" fill="#f8cb46"/>
<rect x="539.31" y="402.33" width="5.86" height="5.90" fill="#f8cb46"/>
<rect x="578.53" y="402.33" width="5.86" height="5.90" fill="#f8cb46"/>
<rect x="678.77" y="407.42" width="5.86" height="5.90" fill="#f8cb46"/>
<rect x="718.00" y="407.42" width="5.86" height="5.90" fill="#f8cb46"/>
<rect x="726.72" y="407.42" width="5.86" height="5.90" fill="#f8cb46"/>
<rect x="726.72" y="412.52" width="5.86" height="5.90" fill="#f8cb46"/>
<rect x="530.59" y="417.62" width="5.86" height="5.90" fill="#f8cb46"/>
<rect x="556.74" y="417.62" width="10.22" height="5.90" fill="#f8cb46"/>
<rect x="569.82" y="417.62" width="5.86" height="5.90" fill="#f8cb46"/>
<rect x="534.95" y="422.71" width="5.86" height="5.90" fill="#f8cb46"/>
<rect x="548.02" y="422.71" width="5.86" height="5.90" fill="#f8cb46"/>
<rect x="648.27" y="422.71" width="5.86" height="5.90" fill="#f8cb46"/>
<rect x="652.62" y="432.91" width="5.86" height="5.90" fill="#f8cb46"/>
<rect x="687.49" y="432.91" width="5.86" height="5.90" fill="#f8cb46"/>
<rect x="569.82" y="448.21" width="10.22" height="5.90" fill="#f8cb46"/>
<rect x="582.89" y="448.21" width="5.86" height="5.90" fill="#f8cb46"/>
<rect x="648.27" y="458.41" width="5.86" height="5.90" fill="#f8cb46"/>
<rect x="456.50" y="463.51" width="5.86" height="5.90" fill="#f8cb46"/>
<rect x="548.02" y="463.51" width="5.86" height="5.90" fill="#f8cb46"/>
<rect x="691.85" y="478.81" width="5.86" height="5.90" fill="#f8cb46"/>
<rect x="661.34" y="489.02" width="5.86" height="5.90" fill="#f8cb46"/>
<rect x="678.77" y="489.02" width="10.22" height="5.90" fill="#f8cb46"/>
<rect x="561.10" y="494.12" width="5.86" height="5.90" fill="#f8cb46"/>
<rect x="556.74" y="499.23" width="5.86" height="5.90" fill="#f8cb46"/>
<rect x="674.42" y="499.23" width="5.86" height="5.90" fill="#f8cb46"/>
<rect x="683.13" y="499.23" width="5.86" height="5.90" fill="#f8cb46"/>
<rect x="713.64" y="504.33" width="5.86" height="5.90" fill="#f8cb46"/>
<rect x="574.17" y="509.43" width="5.86" height="5.91" fill="#f8cb46"/>
<rect x="622.12" y="514.54" width="5.86" height="5.91" fill="#f8cb46"/>
<rect x="691.85" y="514.54" width="5.86" height="5.91" fill="#f8cb46"/>
<rect x="726.72" y="524.75" width="5.86" height="5.91" fill="#f8cb46"/>
<rect x="744.15" y="524.75" width="5.86" height="5.91" fill="#f8cb46"/>
<rect x="670.06" y="545.18" width="10.22" height="5.91" fill="#f8cb46"/>
<rect x="600.33" y="560.51" width="5.86" height="5.91" fill="#f8cb46"/>
<rect x="779.02" y="565.62" width="5.86" height="5.91" fill="#f8cb46"/>
<rect x="495.73" y="570.73" width="10.22" height="5.91" fill="#f8cb46"/>
<rect x="652.62" y="575.84" width="5.86" height="5.91" fill="#f8cb46"/>
<rect x="491.37" y="580.95" width="5.86" height="5.91" fill="#f8cb46"/>
<rect x="534.95" y="586.06" width="5.86" height="5.91" fill="#f8cb46"/>
<rect x="556.74" y="596.29" width="10.22" height="5.91" fill="#f8cb46"/>
<rect x="613.40" y="596.29" width="5.86" height="5.91" fill="#f8cb46"/>
<rect x="630.83" y="596.29" width="5.86" height="5.91" fill="#f8cb46"/>
<rect x="482.65" y="601.40" width="5.86" height="5.91" fill="#f8cb46"/>
<rect x="622.12" y="606.52" width="5.86" height="5.91" fill="#f8cb46"/>
<rect x="482.65" y="611.63" width="5.86" height="5.91" fill="#f8cb46"/>
<rect x="683.13" y="616.74" width="5.86" height="5.92" fill="#f8cb46"/>
<rect x="465.22" y="626.98" width="5.86" height="5.92" fill="#f8cb46"/>
<rect x="487.01" y="632.09" width="5.86" height="5.92" fill="#f8cb46"/>
<rect x="726.72" y="632.09" width="5.86" height="5.92" fill="#f8cb46"/>
<rect x="452.14" y="642.33" width="5.86" height="5.92" fill="#f8cb46"/>
<rect x="600.33" y="642.33" width="5.86" height="5.92" fill="#f8cb46"/>
<rect x="482.65" y="652.56" width="5.86" height="5.92" fill="#f8cb46"/>
<rect x="482.65" y="657.68" width="5.86" height="5.92" fill="#f8cb46"/>
<rect x="617.76" y="657.68" width="5.86" height="5.92" fill="#f8cb46"/>
<rect x="452.14" y="673.04" width="5.86" height="5.92" fill="#f8cb46"/>
<rect x="630.83" y="678.16" width="10.22" height="5.92" fill="#f8cb46"/>
<rect x="626.48" y="688.40" width="5.86" height="5.92" fill="#f8cb46"/>
<rect x="661.34" y="688.40" width="5.86" height="5.92" fill="#f8cb46"/>
<rect x="696.21" y="698.64" width="5.86" height="5.92" fill="#f8cb46"/>
<rect x="99.12" y="203.96" width="5.86" height="5.88" fill="#fd9a30"/>
<rect x="595.97" y="229.35" width="5.86" height="5.88" fill="#fd9a30"/>
<rect x="604.68" y="229.35" width="5.86" height="5.88" fill="#fd9a30"/>
<rect x="622.12" y="229.35" width="5.86" height="5.88" fill="#fd9a30"/>
<rect x="591.61" y="234.43" width="10.22" height="5.88" fill="#fd9a30"/>
<rect x="595.97" y="239.51" width="5.86" height="5.88" fill="#fd9a30"/>
<rect x="630.83" y="239.51" width="5.86" height="5.88" fill="#fd9a30"/>
<rect x="656.98" y="239.51" width="5.86" height="5.88" fill="#fd9a30"/>
<rect x="595.97" y="244.59" width="5.86" height="5.88" fill="#fd9a30"/>
<rect x="630.83" y="244.59" width="5.86" height="5.88" fill="#fd9a30"/>
<rect x="643.91" y="244.59" width="10.22" height="5.88" fill="#fd9a30"/>
<rect x="656.98" y="244.59" width="5.86" height="5.88" fill="#fd9a30"/>
<rect x="582.89" y="249.67" width="5.86" height="5.88" fill="#fd9a30"/>
<rect x="595.97" y="249.67" width="5.86" height="5.88" fill="#fd9a30"/>
<rect x="643.91" y="249.67" width="10.22" height="5.88" fill="#fd9a30"/>
<rect x="582.89" y="254.76" width="5.86" height="5.88" fill="#fd9a30"/>
<rect x="595.97" y="254.76" width="5.86" height="5.88" fill="#fd9a30"/>
<rect x="556.74" y="259.84" width="5.86" height="5.88" fill="#fd9a30"/>
<rect x="622.12" y="259.84" width="5.86" height="5.88" fill="#fd9a30"/>
<rect x="94.76" y="264.92" width="5.86" height="5.88" fill="#fd9a30"/>
<rect x="578.53" y="264.92" width="5.86" height="5.88" fill="#fd9a30"/>
<rect x="587.25" y="264.92" width="5.86" height="5.88" fill="#fd9a30"/>
<rect x="609.04" y="264.92" width="5.86" height="5.88" fill="#fd9a30"/>
<rect x="491.37" y="270.00" width="5.86" height="5.88" fill="#fd9a30"/>
<rect x="561.10" y="270.00" width="5.86" height="5.88" fill="#fd9a30"/>
<rect x="613.40" y="270.00" width="5.86" height="5.88" fill="#fd9a30"/>
<rect x="622.12" y="270.00" width="10.22" height="5.88" fill="#fd9a30"/>
<rect x="643.91" y="270.00" width="5.86" height="5.88" fill="#fd9a30"/>
<rect x="465.22" y="275.09" width="10.22" height="5.88" fill="#fd9a30"/>
<rect x="626.48" y="275.09" width="5.86" height="5.88" fill="#fd9a30"/>
<rect x="643.91" y="275.09" width="5.86" height="5.88" fill="#fd9a30"/>
<rect x="465.22" y="280.17" width="5.86" height="5.88" fill="#fd9a30"/>
<rect x="630.83" y="280.17" width="5.86" height="5.88" fill="#fd9a30"/>
<rect x="391.12" y="285.26" width="5.86" height="5.89" fill="#fd9a30"/>
<rect x="578.53" y="285.26" width="5.86" height="5.89" fill="#fd9a30"/>
<rect x="635.19" y="285.26" width="5.86" height="5.89" fill="#fd9a30"/>
<rect x="578.53" y="290.34" width="5.86" height="5.89" fill="#fd9a30"/>
<rect x="652.62" y="290.34" width="5.86" height="5.89" fill="#fd9a30"/>
<rect x="582.89" y="295.43" width="10.22" height="5.89" fill="#fd9a30"/>
<rect x="622.12" y="295.43" width="5.86" height="5.89" fill="#fd9a30"/>
<rect x="626.48" y="300.51" width="10.22" height="5.89" fill="#fd9a30"/>
<rect x="591.61" y="305.60" width="5.86" height="5.89" fill="#fd9a30"/>
<rect x="643.91" y="305.60" width="5.86" height="5.89" fill="#fd9a30"/>
<rect x="656.98" y="305.60" width="5.86" height="5.89" fill="#fd9a30"/>
<rect x="513.16" y="310.69" width="5.86" height="5.89" fill="#fd9a30"/>
<rect x="591.61" y="310.69" width="5.86" height="5.89" fill="#fd9a30"/>
<rect x="635.19" y="310.69" width="5.86" height="5.89" fill="#fd9a30"/>
<rect x="643.91" y="310.69" width="5.86" height="5.89" fill="#fd9a30"/>
<rect x="656.98" y="310.69" width="5.86" height="5.89" fill="#fd9a30"/>
<rect x="665.70" y="310.69" width="14.57" height="5.89" fill="#fd9a30"/>
<rect x="443.42" y="315.77" width="5.86" height="5.89" fill="#fd9a30"/>
<rect x="513.16" y="315.77" width="5.86" height="5.89" fill="#fd9a30"/>
<rect x="526.23" y="315.77" width="5.86" height="5.89" fill="#fd9a30"/>
<rect x="643.91" y="315.77" width="5.86" height="5.89" fill="#fd9a30"/>
<rect x="665.70" y="315.77" width="10.22" height="5.89" fill="#fd9a30"/>
<rect x="508.80" y="320.86" width="5.86" height="5.89" fill="#fd9a30"/>
<rect x="521.88" y="320.86" width="5.86" height="5.89" fill="#fd9a30"/>
<rect x="604.68" y="320.86" width="10.22" height="5.89" fill="#fd9a30"/>
<rect x="452.14" y="325.95" width="10.22" height="5.89" fill="#fd9a30"/>
<rect x="526.23" y="325.95" width="5.86" height="5.89" fill="#fd9a30"/>
<rect x="613.40" y="325.95" width="10.22" height="5.89" fill="#fd9a30"/>
<rect x="491.37" y="331.04" width="5.86" height="5.89" fill="#fd9a30"/>
<rect x="526.23" y="331.04" width="5.86" height="5.89" fill="#fd9a30"/>
<rect x="534.95" y="331.04" width="10.22" height="5.89" fill="#fd9a30"/>
<rect x="665.70" y="331.04" width="5.86" height="5.89" fill="#fd9a30"/>
<rect x="674.42" y="331.04" width="5.86" height="5.89" fill="#fd9a30"/>
<rect x="587.25" y="336.13" width="10.22" height="5.89" fill="#fd9a30"/>
<rect x="665.70" y="336.13" width="5.86" height="5.89" fill="#fd9a30"/>
<rect x="539.31" y="341.22" width="5.86" height="5.89" fill="#fd9a30"/>
<rect x="609.04" y="341.22" width="14.57" height="5.89" fill="#fd9a30"/>
<rect x="539.31" y="346.31" width="5.86" height="5.89" fill="#fd9a30"/>
<rect x="578.53" y="346.31" width="10.22" height="5.89" fill="#fd9a30"/>
<rect x="617.76" y="346.31" width="5.86" height="5.89" fill="#fd9a30"/>
<rect x="626.48" y="346.31" width="5.86" height="5.89" fill="#fd9a30"/>
<rect x="543.67" y="351.40" width="5.86" height="5.89" fill="#fd9a30"/>
<rect x="582.89" y="351.40" width="14.58" height="5.89" fill="#fd9a30"/>
<rect x="617.76" y="351.40" width="5.86" height="5.89" fill="#fd9a30"/>
<rect x="539.31" y="356.49" width="5.86" height="5.89" fill="#fd9a30"/>
<rect x="582.89" y="356.49" width="5.86" height="5.89" fill="#fd9a30"/>
<rect x="626.48" y="356.49" width="14.57" height="5.89" fill="#fd9a30"/>
<rect x="582.89" y="361.58" width="5.86" height="5.89" fill="#fd9a30"/>
<rect x="630.83" y="361.58" width="5.86" height="5.89" fill="#fd9a30"/>
<rect x="548.02" y="366.67" width="5.86" height="5.89" fill="#fd9a30"/>
<rect x="556.74" y="366.67" width="5.86" height="5.89" fill="#fd9a30"/>
<rect x="574.17" y="366.67" width="5.86" height="5.89" fill="#fd9a30"/>
<rect x="639.55" y="366.67" width="5.86" height="5.89" fill="#fd9a30"/>
<rect x="543.67" y="371.77" width="5.86" height="5.89" fill="#fd9a30"/>
<rect x="556.74" y="371.77" width="5.86" height="5.89" fill="#fd9a30"/>
<rect x="683.13" y="376.86" width="5.86" height="5.89" fill="#fd9a30"/>
<rect x="72.97" y="381.95" width="10.22" height="5.89" fill="#fd9a30"/>
<rect x="526.23" y="381.95" width="5.86" height="5.89" fill="#fd9a30"/>
<rect x="539.31" y="381.95" width="5.86" height="5.89" fill="#fd9a30"/>
<rect x="595.97" y="381.95" width="5.86" height="5.89" fill="#fd9a30"/>
<rect x="72.97" y="387.05" width="5.86" height="5.89" fill="#fd9a30"/>
<rect x="539.31" y="387.05" width="5.86" height="5.89" fill="#fd9a30"/>
<rect x="552.38" y="387.05" width="10.22" height="5.89" fill="#fd9a30"/>
<rect x="696.21" y="387.05" width="14.58" height="5.89" fill="#fd9a30"/>
<rect x="72.97" y="392.14" width="5.86" height="5.89" fill="#fd9a30"/>
<rect x="539.31" y="392.14" width="5.86" height="5.89" fill="#fd9a30"/>
<rect x="77.33" y="397.23" width="5.86" height="5.90" fill="#fd9a30"/>
<rect x="709.28" y="397.23" width="5.86" height="5.90" fill="#fd9a30"/>
<rect x="552.38" y="402.33" width="5.86" height="5.90" fill="#fd9a30"/>
<rect x="639.55" y="402.33" width="10.22" height="5.90" fill="#fd9a30"/>
<rect x="718.00" y="402.33" width="5.86" height="5.90" fill="#fd9a30"/>
<rect x="731.08" y="402.33" width="5.86" height="5.90" fill="#fd9a30"/>
<rect x="539.31" y="407.42" width="5.86" height="5.90" fill="#fd9a30"/>
<rect x="731.08" y="407.42" width="5.86" height="5.90" fill="#fd9a30"/>
<rect x="534.95" y="417.62" width="5.86" height="5.90" fill="#fd9a30"/>
<rect x="543.67" y="417.62" width="5.86" height="5.90" fill="#fd9a30"/>
<rect x="539.31" y="427.81" width="14.58" height="5.90" fill="#fd9a30"/>
<rect x="683.13" y="427.81" width="5.86" height="5.90" fill="#fd9a30"/>
<rect x="696.21" y="427.81" width="5.86" height="5.90" fill="#fd9a30"/>
<rect x="674.42" y="432.91" width="5.86" height="5.90" fill="#fd9a30"/>
<rect x="718.00" y="432.91" width="5.86" height="5.90" fill="#fd9a30"/>
<rect x="552.38" y="448.21" width="5.86" height="5.90" fill="#fd9a30"/>
<rect x="556.74" y="453.31" width="5.86" height="5.90" fill="#fd9a30"/>
<rect x="556.74" y="458.41" width="5.86" height="5.90" fill="#fd9a30"/>
<rect x="704.92" y="468.61" width="5.86" height="5.90" fill="#fd9a30"/>
<rect x="678.77" y="494.12" width="5.86" height="5.90" fill="#fd9a30"/>
<rect x="704.92" y="504.33" width="5.86" height="5.90" fill="#fd9a30"/>
<rect x="718.00" y="504.33" width="5.86" height="5.90" fill="#fd9a30"/>
<rect x="726.72" y="504.33" width="5.86" height="5.90" fill="#fd9a30"/>
<rect x="569.82" y="509.43" width="5.86" height="5.91" fill="#fd9a30"/>
<rect x="656.98" y="509.43" width="5.86" height="5.91" fill="#fd9a30"/>
<rect x="504.44" y="514.54" width="5.86" height="5.91" fill="#fd9a30"/>
<rect x="565.46" y="519.65" width="5.86" height="5.91" fill="#fd9a30"/>
<rect x="574.17" y="519.65" width="5.86" height="5.91" fill="#fd9a30"/>
<rect x="565.46" y="524.75" width="5.86" height="5.91" fill="#fd9a30"/>
<rect x="574.17" y="524.75" width="5.86" height="5.91" fill="#fd9a30"/>
<rect x="622.12" y="545.18" width="14.58" height="5.91" fill="#fd9a30"/>
<rect x="674.42" y="555.40" width="10.22" height="5.91" fill="#fd9a30"/>
<rect x="504.44" y="575.84" width="14.57" height="5.91" fill="#fd9a30"/>
<rect x="500.08" y="580.95" width="5.86" height="5.91" fill="#fd9a30"/>
<rect x="513.16" y="580.95" width="10.22" height="5.91" fill="#fd9a30"/>
<rect x="491.37" y="586.06" width="5.86" height="5.91" fill="#fd9a30"/>
<rect x="517.52" y="586.06" width="5.86" height="5.91" fill="#fd9a30"/>
<rect x="487.01" y="591.18" width="10.22" height="5.91" fill="#fd9a30"/>
<rect x="487.01" y="596.29" width="5.86" height="5.91" fill="#fd9a30"/>
<rect x="556.74" y="601.40" width="10.22" height="5.91" fill="#fd9a30"/>
<rect x="626.48" y="606.52" width="5.86" height="5.91" fill="#fd9a30"/>
<rect x="674.42" y="616.74" width="5.86" height="5.92" fill="#fd9a30"/>
<rect x="482.65" y="637.21" width="5.86" height="5.92" fill="#fd9a30"/>
<rect x="548.02" y="642.33" width="5.86" height="5.92" fill="#fd9a30"/>
<rect x="452.14" y="647.44" width="5.86" height="5.92" fill="#fd9a30"/>
<rect x="539.31" y="647.44" width="5.86" height="5.92" fill="#fd9a30"/>
<rect x="447.78" y="652.56" width="5.86" height="5.92" fill="#fd9a30"/>
<rect x="656.98" y="673.04" width="5.86" height="5.92" fill="#fd9a30"/>
<rect x="700.57" y="683.28" width="5.86" height="5.92" fill="#fd9a30"/>
<rect x="691.85" y="688.40" width="10.22" height="5.92" fill="#fd9a30"/>
<rect x="103.48" y="198.88" width="5.86" height="5.88" fill="#ec521b"/>
<rect x="103.48" y="203.96" width="5.86" height="5.88" fill="#ec521b"/>
<rect x="591.61" y="239.51" width="5.86" height="5.88" fill="#ec521b"/>
<rect x="587.25" y="244.59" width="10.22" height="5.88" fill="#ec521b"/>
<rect x="587.25" y="249.67" width="10.22" height="5.88" fill="#ec521b"/>
<rect x="556.74" y="254.76" width="5.86" height="5.88" fill="#ec521b"/>
<rect x="565.46" y="254.76" width="5.86" height="5.88" fill="#ec521b"/>
<rect x="587.25" y="254.76" width="10.22" height="5.88" fill="#ec521b"/>
<rect x="565.46" y="259.84" width="32.01" height="5.88" fill="#ec521b"/>
<rect x="569.82" y="264.92" width="10.22" height="5.88" fill="#ec521b"/>
<rect x="582.89" y="264.92" width="5.86" height="5.88" fill="#ec521b"/>
<rect x="574.17" y="270.00" width="5.86" height="5.88" fill="#ec521b"/>
<rect x="630.83" y="270.00" width="10.22" height="5.88" fill="#ec521b"/>
<rect x="103.48" y="275.09" width="5.86" height="5.88" fill="#ec521b"/>
<rect x="630.83" y="275.09" width="5.86" height="5.88" fill="#ec521b"/>
<rect x="103.48" y="280.17" width="5.86" height="5.88" fill="#ec521b"/>
<rect x="460.86" y="280.17" width="5.86" height="5.88" fill="#ec521b"/>
<rect x="574.17" y="280.17" width="10.22" height="5.88" fill="#ec521b"/>
<rect x="460.86" y="285.26" width="5.86" height="5.89" fill="#ec521b"/>
<rect x="574.17" y="285.26" width="5.86" height="5.89" fill="#ec521b"/>
<rect x="561.10" y="290.34" width="18.93" height="5.89" fill="#ec521b"/>
<rect x="561.10" y="295.43" width="10.22" height="5.89" fill="#ec521b"/>
<rect x="574.17" y="295.43" width="10.22" height="5.89" fill="#ec521b"/>
<rect x="674.42" y="295.43" width="10.22" height="5.89" fill="#ec521b"/>
<rect x="530.59" y="300.51" width="10.22" height="5.89" fill="#ec521b"/>
<rect x="543.67" y="300.51" width="18.93" height="5.89" fill="#ec521b"/>
<rect x="574.17" y="300.51" width="23.29" height="5.89" fill="#ec521b"/>
<rect x="517.52" y="305.60" width="14.58" height="5.89" fill="#ec521b"/>
<rect x="543.67" y="305.60" width="10.22" height="5.89" fill="#ec521b"/>
<rect x="574.17" y="305.60" width="18.93" height="5.89" fill="#ec521b"/>
<rect x="517.52" y="310.69" width="18.93" height="5.89" fill="#ec521b"/>
<rect x="574.17" y="310.69" width="18.93" height="5.89" fill="#ec521b"/>
<rect x="639.55" y="310.69" width="5.86" height="5.89" fill="#ec521b"/>
<rect x="661.34" y="310.69" width="5.86" height="5.89" fill="#ec521b"/>
<rect x="517.52" y="315.77" width="10.22" height="5.89" fill="#ec521b"/>
<rect x="534.95" y="315.77" width="5.86" height="5.89" fill="#ec521b"/>
<rect x="574.17" y="315.77" width="23.29" height="5.89" fill="#ec521b"/>
<rect x="661.34" y="315.77" width="5.86" height="5.89" fill="#ec521b"/>
<rect x="513.16" y="320.86" width="10.22" height="5.89" fill="#ec521b"/>
<rect x="530.59" y="320.86" width="5.86" height="5.89" fill="#ec521b"/>
<rect x="574.17" y="320.86" width="32.01" height="5.89" fill="#ec521b"/>
<rect x="517.52" y="325.95" width="10.22" height="5.89" fill="#ec521b"/>
<rect x="530.59" y="325.95" width="10.22" height="5.89" fill="#ec521b"/>
<rect x="574.17" y="325.95" width="40.73" height="5.89" fill="#ec521b"/>
<rect x="622.12" y="325.95" width="14.58" height="5.89" fill="#ec521b"/>
<rect x="456.50" y="331.04" width="10.22" height="5.89" fill="#ec521b"/>
<rect x="521.88" y="331.04" width="5.86" height="5.89" fill="#ec521b"/>
<rect x="543.67" y="331.04" width="10.22" height="5.89" fill="#ec521b"/>
<rect x="587.25" y="331.04" width="14.58" height="5.89" fill="#ec521b"/>
<rect x="465.22" y="336.13" width="5.86" height="5.89" fill="#ec521b"/>
<rect x="548.02" y="336.13" width="5.86" height="5.89" fill="#ec521b"/>
<rect x="582.89" y="336.13" width="5.86" height="5.89" fill="#ec521b"/>
<rect x="595.97" y="336.13" width="10.22" height="5.89" fill="#ec521b"/>
<rect x="670.06" y="336.13" width="10.22" height="5.89" fill="#ec521b"/>
<rect x="548.02" y="341.22" width="5.86" height="5.89" fill="#ec521b"/>
<rect x="578.53" y="341.22" width="10.22" height="5.89" fill="#ec521b"/>
<rect x="604.68" y="341.22" width="5.86" height="5.89" fill="#ec521b"/>
<rect x="543.67" y="346.31" width="10.22" height="5.89" fill="#ec521b"/>
<rect x="574.17" y="346.31" width="5.86" height="5.89" fill="#ec521b"/>
<rect x="552.38" y="351.40" width="5.86" height="5.89" fill="#ec521b"/>
<rect x="574.17" y="351.40" width="5.86" height="5.89" fill="#ec521b"/>
<rect x="543.67" y="356.49" width="5.86" height="5.89" fill="#ec521b"/>
<rect x="552.38" y="356.49" width="5.86" height="5.89" fill="#ec521b"/>
<rect x="574.17" y="356.49" width="10.22" height="5.89" fill="#ec521b"/>
<rect x="548.02" y="361.58" width="5.86" height="5.89" fill="#ec521b"/>
<rect x="574.17" y="361.58" width="10.22" height="5.89" fill="#ec521b"/>
<rect x="635.19" y="361.58" width="10.22" height="5.89" fill="#ec521b"/>
<rect x="561.10" y="366.67" width="5.86" height="5.89" fill="#ec521b"/>
<rect x="569.82" y="366.67" width="5.86" height="5.89" fill="#ec521b"/>
<rect x="561.10" y="371.77" width="5.86" height="5.89" fill="#ec521b"/>
<rect x="569.82" y="371.77" width="5.86" height="5.89" fill="#ec521b"/>
<rect x="561.10" y="376.86" width="14.57" height="5.89" fill="#ec521b"/>
<rect x="565.46" y="381.95" width="10.22" height="5.89" fill="#ec521b"/>
<rect x="687.49" y="381.95" width="10.22" height="5.89" fill="#ec521b"/>
<rect x="77.33" y="387.05" width="5.86" height="5.89" fill="#ec521b"/>
<rect x="565.46" y="387.05" width="5.86" height="5.89" fill="#ec521b"/>
<rect x="77.33" y="392.14" width="5.86" height="5.89" fill="#ec521b"/>
<rect x="552.38" y="392.14" width="5.86" height="5.89" fill="#ec521b"/>
<rect x="691.85" y="392.14" width="5.86" height="5.89" fill="#ec521b"/>
<rect x="72.97" y="397.23" width="5.86" height="5.90" fill="#ec521b"/>
<rect x="539.31" y="397.23" width="5.86" height="5.90" fill="#ec521b"/>
<rect x="552.38" y="397.23" width="5.86" height="5.90" fill="#ec521b"/>
<rect x="548.02" y="402.33" width="5.86" height="5.90" fill="#ec521b"/>
<rect x="709.28" y="402.33" width="5.86" height="5.90" fill="#ec521b"/>
<rect x="543.67" y="407.42" width="5.86" height="5.90" fill="#ec521b"/>
<rect x="643.91" y="407.42" width="5.86" height="5.90" fill="#ec521b"/>
<rect x="700.57" y="407.42" width="10.22" height="5.90" fill="#ec521b"/>
<rect x="539.31" y="412.52" width="10.22" height="5.90" fill="#ec521b"/>
<rect x="539.31" y="422.71" width="5.86" height="5.90" fill="#ec521b"/>
<rect x="678.77" y="448.21" width="10.22" height="5.90" fill="#ec521b"/>
<rect x="674.42" y="489.02" width="5.86" height="5.90" fill="#ec521b"/>
<rect x="674.42" y="494.12" width="5.86" height="5.90" fill="#ec521b"/>
<rect x="561.10" y="499.23" width="5.86" height="5.90" fill="#ec521b"/>
<rect x="661.34" y="509.43" width="5.86" height="5.91" fill="#ec521b"/>
<rect x="495.73" y="575.84" width="5.86" height="5.91" fill="#ec521b"/>
<rect x="495.73" y="580.95" width="5.86" height="5.91" fill="#ec521b"/>
<rect x="504.44" y="580.95" width="10.22" height="5.91" fill="#ec521b"/>
<rect x="495.73" y="586.06" width="5.86" height="5.91" fill="#ec521b"/>
<rect x="617.76" y="596.29" width="5.86" height="5.91" fill="#ec521b"/>
<rect x="617.76" y="601.40" width="5.86" height="5.91" fill="#ec521b"/>
<rect x="626.48" y="601.40" width="5.86" height="5.91" fill="#ec521b"/>
<rect x="478.29" y="632.09" width="10.22" height="5.92" fill="#ec521b"/>
<rect x="478.29" y="637.21" width="5.86" height="5.92" fill="#ec521b"/>
<rect x="561.10" y="254.76" width="5.86" height="5.88" fill="#c44019"/>
<rect x="561.10" y="259.84" width="5.86" height="5.88" fill="#c44019"/>
<rect x="635.19" y="275.09" width="5.86" height="5.88" fill="#c44019"/>
<rect x="456.50" y="285.26" width="5.86" height="5.89" fill="#c44019"/>
<rect x="569.82" y="295.43" width="5.86" height="5.89" fill="#c44019"/>
<rect x="561.10" y="300.51" width="14.57" height="5.89" fill="#c44019"/>
<rect x="530.59" y="305.60" width="14.58" height="5.89" fill="#c44019"/>
<rect x="552.38" y="305.60" width="23.29" height="5.89" fill="#c44019"/>
<rect x="534.95" y="310.69" width="40.72" height="5.89" fill="#c44019"/>
<rect x="539.31" y="315.77" width="36.37" height="5.89" fill="#c44019"/>
<rect x="534.95" y="320.86" width="40.72" height="5.89" fill="#c44019"/>
<rect x="539.31" y="325.95" width="36.37" height="5.89" fill="#c44019"/>
<rect x="465.22" y="331.04" width="5.86" height="5.89" fill="#c44019"/>
<rect x="552.38" y="331.04" width="36.37" height="5.89" fill="#c44019"/>
<rect x="552.38" y="336.13" width="32.01" height="5.89" fill="#c44019"/>
<rect x="552.38" y="341.22" width="27.65" height="5.89" fill="#c44019"/>
<rect x="552.38" y="346.31" width="23.29" height="5.89" fill="#c44019"/>
<rect x="556.74" y="351.40" width="18.93" height="5.89" fill="#c44019"/>
<rect x="556.74" y="356.49" width="18.93" height="5.89" fill="#c44019"/>
<rect x="556.74" y="361.58" width="18.93" height="5.89" fill="#c44019"/>
<rect x="543.67" y="392.14" width="10.22" height="5.89" fill="#c44019"/>
<rect x="696.21" y="392.14" width="14.58" height="5.89" fill="#c44019"/>
<rect x="543.67" y="397.23" width="10.22" height="5.90" fill="#c44019"/>
<rect x="696.21" y="397.23" width="14.58" height="5.90" fill="#c44019"/>
<rect x="543.67" y="402.33" width="5.86" height="5.90" fill="#c44019"/>
<rect x="696.21" y="402.33" width="14.58" height="5.90" fill="#c44019"/>
<rect x="639.55" y="407.42" width="5.86" height="5.90" fill="#c44019"/>
<rect x="539.31" y="417.62" width="5.86" height="5.90" fill="#c44019"/>
<rect x="678.77" y="453.31" width="10.22" height="5.90" fill="#c44019"/>
<rect x="500.08" y="575.84" width="5.86" height="5.91" fill="#c44019"/>
<rect x="622.12" y="596.29" width="10.22" height="5.91" fill="#c44019"/>
<rect x="622.12" y="601.40" width="5.86" height="5.91" fill="#c44019"/>
</g>
<path d="M2.0 690.0 C2.3 689.8 1.8 690.4 4.0 688.9 C6.2 687.4 10.8 683.2 15.2 681.3 C19.6 679.4 24.4 679.0 30.3 677.3 C36.2 675.6 44.6 673.5 50.5 671.2 C56.4 668.9 60.6 667.0 65.7 663.6 C70.8 660.2 76.3 654.4 80.9 651.0 C85.5 647.6 89.3 644.8 93.5 643.4 C97.7 642.0 100.5 642.6 106.0 642.4 C111.5 642.1 120.5 641.7 126.4 641.9 C132.3 642.1 137.3 642.6 141.5 643.4 C145.7 644.2 148.4 645.6 151.6 646.9 C154.8 648.2 157.3 651.0 160.7 651.0 C164.1 651.0 168.4 649.3 171.8 646.9 C175.2 644.5 178.3 641.2 181.0 636.8 C183.7 632.4 185.7 625.0 188.0 620.6 C190.3 616.2 192.2 612.7 194.6 610.5 C197.0 608.3 199.2 608.2 202.2 607.5 C205.1 606.8 209.6 607.9 212.3 606.5 C215.0 605.1 216.5 602.3 218.3 599.4 C220.2 596.5 221.5 591.8 223.4 589.3 C225.3 586.8 227.2 585.1 230.0 584.3 C232.8 583.5 236.2 583.5 240.0 584.3 C243.8 585.1 248.9 587.4 252.7 589.3 C256.5 591.1 259.4 592.3 262.8 595.4 C266.2 598.5 269.7 603.4 272.9 608.0 C276.1 612.6 279.1 618.2 282.0 623.2 C284.9 628.2 287.5 633.7 290.6 638.3 C293.7 642.9 297.3 647.4 300.7 651.0 C304.1 654.6 307.9 658.0 310.8 660.0 C313.8 662.0 315.0 662.9 318.4 663.1 C321.8 663.3 326.4 662.0 331.0 661.0 C335.6 660.0 341.6 658.1 346.2 657.0 C350.8 655.9 354.2 654.7 358.8 654.5 C363.4 654.3 368.9 655.1 374.0 656.0 C379.1 656.9 385.0 658.3 389.2 660.0 C393.4 661.7 395.9 663.6 399.3 666.1 C402.7 668.6 406.2 672.2 409.4 675.2 C412.6 678.2 414.9 681.5 418.5 683.8 C422.1 686.1 425.4 686.9 431.0 689.2 C436.6 691.5 444.1 694.5 451.9 697.5 C459.7 700.5 469.2 704.5 477.8 707.4 C486.4 710.3 495.0 712.5 503.7 715.1 C512.4 717.7 521.1 720.9 529.7 722.9 C538.4 724.9 548.2 726.2 555.6 727.1 C563.0 728.0 569.0 728.3 573.8 728.1 C578.5 727.9 581.1 727.3 584.1 726.0 C587.1 724.7 589.9 722.7 591.9 720.3 C593.9 717.9 595.0 715.1 596.0 711.5 C597.0 707.9 597.6 703.2 598.1 698.5 C598.6 693.8 598.7 687.8 599.2 683.0 C599.7 678.2 600.0 673.9 601.2 670.0 C602.4 666.1 604.1 662.5 606.4 659.6 C608.7 656.8 612.2 654.2 615.2 652.9 C618.2 651.6 621.1 651.4 624.1 651.9 C627.1 652.4 630.1 654.1 633.4 656.0 C636.7 657.9 640.3 661.2 643.8 663.3 C647.2 665.4 650.2 667.1 654.1 668.5 C658.0 669.9 662.3 671.3 667.1 671.6 C671.9 671.9 678.4 671.0 682.7 670.5 C687.0 670.0 690.6 669.4 693.0 668.5 C695.4 667.6 697.2 665.4 697.2 665.4 C697.2 665.4 699.6 668.4 701.9 670.0 C704.2 671.6 707.5 673.8 711.2 675.2 C714.9 676.6 719.9 678.0 724.2 678.3 C728.5 678.6 732.4 678.0 737.1 676.8 C741.9 675.6 746.7 673.2 752.7 671.0 C758.8 668.8 766.5 665.4 773.4 663.3 C780.3 661.2 787.3 660.1 794.2 658.6 C801.1 657.1 809.3 655.6 814.9 654.5 C820.5 653.4 825.8 652.3 828.0 651.9" fill="none" stroke="#4a4a4a" stroke-width="1.1" stroke-dasharray="3.6 1.4 1 1.4"/>
<g stroke="#000" fill="none">
<rect x="3" y="75.5" width="825" height="819" stroke-width="1"/>
<path d="M3 75 V895 M828 75 V895" stroke-width="2"/>
<path d="M2 894.5 H829" stroke-width="2"/>
<path d="M2 75 H31 M800 75 H829" stroke-width="2"/>
<path d="M65 75 V89 M326.5 75 V89 M588 75 V89 M65 881 V894 M326.5 881 V894 M588 881 V894" stroke-width="2"/>
<path d="M3 306 H17 M814 306 H828" stroke-width="2.2"/><path d="M3 611.8 H17 M814 611.8 H828" stroke-width="1.7"/>
</g>
<g font-size="16.6" fill="#000">
<text x="65" y="870.5" text-anchor="middle">−69.5°</text>
<text x="326.5" y="870.5" text-anchor="middle">−69°</text>
<text x="588.5" y="870.5" text-anchor="middle">−68.5°</text>
<text x="803.5" y="312" text-anchor="end">−31.5°</text>
<text x="803.5" y="617.5" text-anchor="end">−32°</text>
</g>
<polygon points="415.40,467.80 418.93,478.65 430.33,478.65 421.10,485.35 424.63,496.20 415.40,489.50 406.17,496.20 409.70,485.35 400.47,478.65 411.87,478.65" fill="#ee1111" stroke="#000" stroke-width="2.4" stroke-linejoin="miter"/>
<circle cx="106.0" cy="204.5" r="2.9" fill="#3a4444" stroke="#000" stroke-width="1"/>
<text x="108.5" y="202.2" font-size="16.6" fill="#000" stroke="#e9e9e9" stroke-width="4.6" stroke-linejoin="round" paint-order="stroke">Calingasta</text>
<circle cx="569.3" cy="328.8" r="2.9" fill="#3a4444" stroke="#000" stroke-width="1"/>
<text x="572.5" y="326.0" font-size="16.6" fill="#000" stroke="#e9e9e9" stroke-width="4.6" stroke-linejoin="round" paint-order="stroke">San Juan</text>
<circle cx="631.3" cy="776.0" r="2.9" fill="#3a4444" stroke="#000" stroke-width="1"/>
<text x="635.0" y="773.0" font-size="16.6" fill="#000" stroke="#e9e9e9" stroke-width="4.6" stroke-linejoin="round" paint-order="stroke">Primero de Mayo</text>
<g id="logo">
<clipPath id="gc"><circle cx="734.2" cy="860.7" r="25.4"/></clipPath>
<circle cx="734.2" cy="860.7" r="25.8" fill="#fff" stroke="#d8302e" stroke-width="0.9"/>
<g clip-path="url(#gc)">
<path d="M715.59,866.08 L715.16,863.80 L718.11,862.54 L720.64,861.28 L720.22,859.17 L718.11,857.91 L721.06,857.06 L722.75,855.80 L724.43,855.13 L725.11,853.27 L722.58,853.11 L722.07,851.59 L723.42,849.06 L725.44,846.11 L728.31,843.16 L732.18,841.31 L734.71,841.98 L737.24,843.67 L736.39,845.86 L739.43,844.85 L742.29,844.01 L745.66,844.01 L748.86,844.85 L752.65,845.27 L758.97,852.43 L761.16,860.69 L758.97,859.34 L755.60,857.06 L750.55,856.22 L745.49,857.91 L742.97,859.34 L742.12,861.70 L743.81,864.39 L747.18,866.08 L748.19,866.92 L746.17,871.81 L742.54,875.85 L739.43,877.71 L736.39,871.13 L737.07,870.12 L739.60,867.60 L738.75,865.24 L733.70,865.24 L731.34,867.26 L728.81,867.60 L726.79,866.33 L725.27,865.49 L723.59,864.23 L721.06,865.07 L717.27,866.42 Z" fill="#e02826"/>
<path d="M714.49,870.54 L716.85,868.44 L719.38,867.60 L722.07,868.10 L725.27,869.28 L728.64,870.29 L732.01,869.79 L735.55,870.29 L736.23,871.39 L738.92,878.21 L738.33,880.65 L733.70,882.09 L727.80,881.58 L722.75,879.56 L717.69,876.19 L714.83,872.82 Z" fill="#e02826"/>
<path d="M732.69,863.55 L734.54,862.46 L737.91,862.54 L739.26,863.72 L737.07,864.73 L733.70,864.56 Z" fill="#fff"/>
<path d="M729.82,845.86 L728.90,849.74 L727.46,853.27" fill="none" stroke="#fff" stroke-width="0.8" stroke-linecap="round" stroke-linejoin="round"/>
<path d="M717.27,854.28 L719.21,853.95 L720.05,856.22 L718.96,857.65 L717.02,857.32 Z" fill="#e02826"/>
<path d="M715.16,856.31 L716.43,856.14 L716.51,857.82 L715.33,857.99 Z" fill="#e02826"/>
<path d="M712.55,849.15 L713.98,848.98 L714.07,850.24 L712.72,850.41 Z" fill="#e02826"/>
</g>
<text transform="translate(747.31 853.70) scale(0.981 1)" x="0" y="0" font-size="24.5" font-weight="bold" fill="#231815" stroke="#231815" stroke-width="0.6">C</text>
<text transform="translate(765.00 853.70) scale(0.990 1)" x="0" y="0" font-size="24.5" font-weight="bold" fill="#231815" stroke="#231815" stroke-width="0.6">S</text>
<text transform="translate(782.81 853.70) scale(0.787 1)" x="0" y="0" font-size="24.5" font-weight="bold" fill="#231815" stroke="#231815" stroke-width="0.6">E</text>
<text transform="translate(795.63 853.70) scale(1.199 1)" x="0" y="0" font-size="24.5" font-weight="bold" fill="#231815" stroke="#231815" stroke-width="0.6">M</text>
<text transform="translate(748.38 884.70) scale(0.802 1)" x="0" y="0" font-size="24.5" font-weight="bold" fill="#231815" stroke="#231815" stroke-width="0.6">E</text>
<text transform="translate(761.58 884.70) scale(1.170 1)" x="0" y="0" font-size="24.5" font-weight="bold" fill="#231815" stroke="#231815" stroke-width="0.6">M</text>
<text transform="translate(785.60 884.70) scale(0.983 1)" x="0" y="0" font-size="24.5" font-weight="bold" fill="#231815" stroke="#231815" stroke-width="0.6">S</text>
<text transform="translate(802.01 884.70) scale(0.981 1)" x="0" y="0" font-size="24.5" font-weight="bold" fill="#231815" stroke="#231815" stroke-width="0.6">C</text>
<path d="M760.0,860.3 L787.6,860.3 L789.2,855.1 L790.8,862.9 L792.4,859.6 L794.1,865.4 L797.3,847.5 L795.5,870.8 L798.9,855.1 L799.5,860.3 L817.7,860.3" fill="none" stroke="#d9262c" stroke-width="0.9" stroke-linejoin="round"/>
</g>
<text x="804.2" y="920.6" text-anchor="end" font-size="10.5" font-style="italic" fill="#000">Last updated: 2023-05-25 at 13:25 UTC</text>
<path d="M385 922.5 V910.5 H551 V922.5" fill="none" stroke="#000" stroke-width="2"/>
<text x="467.5" y="943.2" text-anchor="middle" font-size="16.6" fill="#000">30 km</text>
<polygon points="384.50,991.00 387.60,1000.54 397.62,1000.54 389.51,1006.43 392.61,1015.96 384.50,1010.07 376.39,1015.96 379.49,1006.43 371.38,1000.54 381.40,1000.54" fill="#ee1111" stroke="#000" stroke-width="1.2"/>
<text x="409.5" y="1010" font-size="16.6" fill="#000">Earthquake epicentre</text>
<text x="18.6" y="938.7" font-size="16.8" font-weight="bold" fill="#000">Number of inhabitants per square km</text>
<rect x="20" y="952.40" width="21" height="18.30" fill="#e4e7e8" stroke="#1a1a1a" stroke-width="1"/>
<text x="48.5" y="968.90" font-size="16.6" fill="#000">pop &lt; 5</text>
<rect x="20" y="970.70" width="21" height="18.30" fill="#fffcc8" stroke="#1a1a1a" stroke-width="1"/>
<text x="48.5" y="986.98" font-size="16.6" fill="#000">5 &lt; pop &lt; 25</text>
<rect x="20" y="989.00" width="21" height="18.30" fill="#ffff5a" stroke="#1a1a1a" stroke-width="1"/>
<text x="48.5" y="1005.06" font-size="16.6" fill="#000">25 &lt; pop &lt; 125</text>
<rect x="20" y="1007.30" width="21" height="18.30" fill="#fd9630" stroke="#1a1a1a" stroke-width="1"/>
<text x="48.5" y="1023.14" font-size="16.6" fill="#000">125 &lt; pop &lt; 600</text>
<rect x="20" y="1025.60" width="21" height="18.30" fill="#fc4d1c" stroke="#1a1a1a" stroke-width="1"/>
<text x="48.5" y="1041.22" font-size="16.6" fill="#000">600 &lt; pop &lt; 3000</text>
<rect x="20" y="1043.90" width="21" height="18.30" fill="#b9481a" stroke="#1a1a1a" stroke-width="1"/>
<text x="48.5" y="1059.30" font-size="16.6" fill="#000">3000 &lt; pop &lt; 15000</text>
<rect x="20" y="1062.20" width="21" height="21.20" fill="#db1313" stroke="#1a1a1a" stroke-width="1"/>
<text x="48.5" y="1077.38" font-size="16.6" fill="#000">pop &gt; 15000</text>
</svg></body></html>
